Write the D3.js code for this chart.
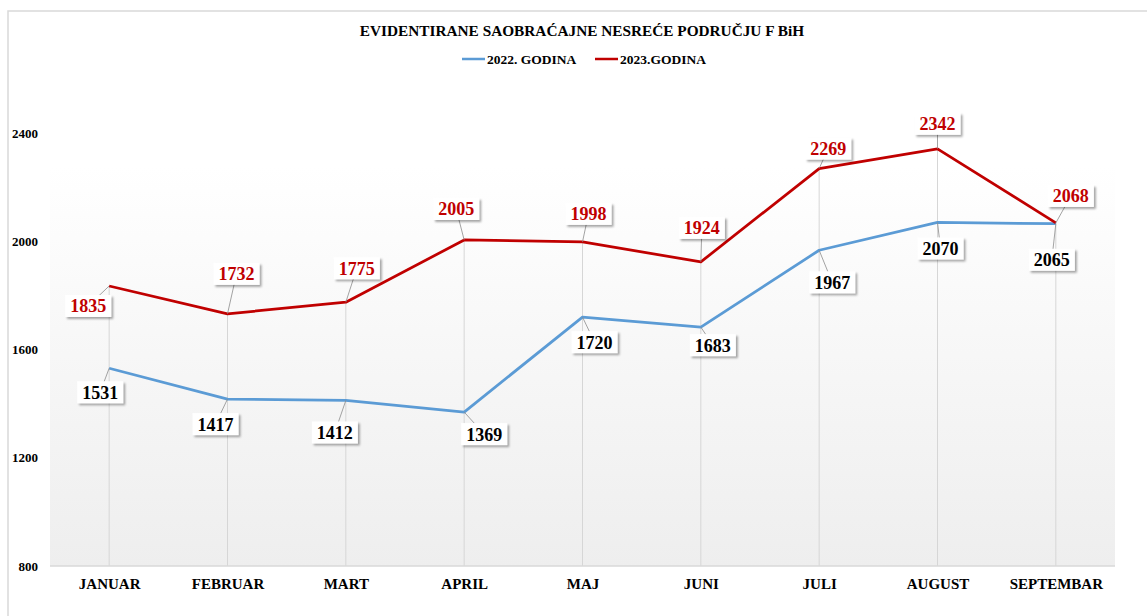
<!DOCTYPE html>
<html>
<head>
<meta charset="utf-8">
<script src="https://cdn.jsdelivr.net/npm/d3@7"></script>
<style>
  body { margin: 0; background: #fff; }
  svg text { font-family: "Liberation Serif", serif; font-weight: bold; }
</style>
</head>
<body>
<div id="vis"></div>
<script>
// data
const months = ["JANUAR", "FEBRUAR", "MART", "APRIL", "MAJ", "JUNI", "JULI", "AUGUST", "SEPTEMBAR"];
const values2022 = [1531, 1417, 1412, 1369, 1720, 1683, 1967, 2070, 2065];
const values2023 = [1835, 1732, 1775, 2005, 1998, 1924, 2269, 2342, 2068];
const yTicks = [800, 1200, 1600, 2000, 2400];
const seriesNames = ["2022. GODINA", "2023.GODINA"];

// where Excel put the moved data labels (offset from the point, px)
const offsets2022 = [[-9, 24], [-12, 25], [-11, 32], [20, 22], [12, 25], [12, 18], [13, 32], [3, 26], [-4, 36]];
const offsets2023 = [[-21, 20], [9, -40], [11, -34], [-8, -31], [6, -28], [1, -34], [9, -20], [0, -25], [15, -27]];

const W = 1147, H = 616;
const plot = {left: 50, right: 1115, top: 79, bottom: 566};

const svg = d3.select("#vis").append("svg")
    .attr("width", W)
    .attr("height", H);

const defs = svg.append("defs");
const grad = defs.append("linearGradient")
    .attr("id", "bg")
    .attr("x1", 0).attr("y1", 0).attr("x2", 0).attr("y2", 1);
grad.append("stop").attr("offset", "0%").attr("stop-color", "#ffffff");
grad.append("stop").attr("offset", "18%").attr("stop-color", "#ffffff");
grad.append("stop").attr("offset", "100%").attr("stop-color", "#eeeeee");

const shadow = defs.append("filter")
    .attr("id", "shadow")
    .attr("x", "-20%").attr("y", "-30%").attr("width", "150%").attr("height", "170%");
shadow.append("feDropShadow")
    .attr("dx", 2).attr("dy", 2)
    .attr("stdDeviation", 1.3)
    .attr("flood-color", "#000")
    .attr("flood-opacity", 0.35);

// chart frame
svg.append("rect")
    .attr("x", 8).attr("y", 11)
    .attr("width", W + 10).attr("height", H + 10)
    .attr("fill", "none")
    .attr("stroke", "#d9d9d9")
    .attr("stroke-width", 1.5);

// plot area
svg.append("rect")
    .attr("x", plot.left).attr("y", plot.top)
    .attr("width", plot.right - plot.left)
    .attr("height", plot.bottom - plot.top)
    .attr("fill", "url(#bg)");

const xScale = d3.scalePoint()
    .domain(months)
    .range([plot.left, plot.right])
    .padding(0.5);

const yScale = d3.scaleLinear()
    .domain([800, 2600])
    .range([plot.bottom, plot.top]);

// drop lines from the highest point down to the axis
svg.append("g")
    .selectAll("line")
    .data(months)
    .join("line")
    .attr("x1", d => xScale(d))
    .attr("x2", d => xScale(d))
    .attr("y1", (d, i) => yScale(Math.max(values2022[i], values2023[i])))
    .attr("y2", plot.bottom)
    .attr("stroke", "#d6d6d6")
    .attr("stroke-width", 1);

// x axis
const xAxis = svg.append("g")
    .attr("transform", `translate(0,${plot.bottom})`)
    .call(d3.axisBottom(xScale).tickSize(0).tickPadding(12));
xAxis.select(".domain")
    .attr("d", `M${plot.left},0H${plot.right}`)
    .attr("stroke", "#d9d9d9")
    .attr("stroke-width", 1.5);
xAxis.selectAll("text")
    .style("font-family", "Liberation Serif, serif")
    .style("font-weight", "bold")
    .style("font-size", "15px")
    .attr("fill", "#000");

// y axis, labels only
const yAxis = svg.append("g")
    .attr("transform", `translate(38,0)`)
    .call(d3.axisLeft(yScale).tickValues(yTicks).tickFormat(d3.format("d")).tickSize(0).tickPadding(0));
yAxis.select(".domain").remove();
yAxis.selectAll("text")
    .style("font-family", "Liberation Serif, serif")
    .style("font-weight", "bold")
    .style("font-size", "13px")
    .attr("fill", "#000");

// lines
const lineGen = d3.line()
    .x((d, i) => xScale(months[i]))
    .y(d => yScale(d));

const series = [
    {name: seriesNames[0], values: values2022, offsets: offsets2022, color: "#5b9bd5", textColor: "#000"},
    {name: seriesNames[1], values: values2023, offsets: offsets2023, color: "#c00000", textColor: "#c00000"}
];

series.forEach(s => {
    svg.append("path")
        .datum(s.values)
        .attr("fill", "none")
        .attr("stroke", s.color)
        .attr("stroke-width", 2.75)
        .attr("stroke-linejoin", "round")
        .attr("d", lineGen);
});

// data labels with leader lines
const boxW = 46, boxH = 22;
series.forEach(s => {
    const g = svg.append("g");
    const labels = s.values.map((v, i) => {
        const px = xScale(months[i]), py = yScale(v);
        return {v, px, py, cx: px + s.offsets[i][0], cy: py + s.offsets[i][1]};
    });

    g.selectAll("line")
        .data(labels)
        .join("line")
        .attr("x1", d => d.px)
        .attr("y1", d => d.py)
        .attr("x2", d => d.cx)
        .attr("y2", d => d.cy)
        .attr("stroke", "#8c8c8c")
        .attr("stroke-width", 0.8);

    const box = g.selectAll(".lbl")
        .data(labels)
        .join("g")
        .attr("class", "lbl")
        .attr("transform", d => `translate(${d.cx},${d.cy})`);

    box.append("rect")
        .attr("x", -boxW / 2).attr("y", -boxH / 2)
        .attr("width", boxW).attr("height", boxH)
        .attr("fill", "#fff")
        .attr("filter", "url(#shadow)");

    box.append("text")
        .attr("text-anchor", "middle")
        .attr("dy", "0.36em")
        .style("font-size", "18px")
        .attr("fill", s.textColor)
        .text(d => d.v);
});

// title
svg.append("text")
    .attr("x", 582).attr("y", 36)
    .attr("text-anchor", "middle")
    .style("font-size", "15.3px")
    .attr("fill", "#000")
    .text("EVIDENTIRANE SAOBRAĆAJNE NESREĆE PODRUČJU F BiH");

// legend
const legendX = [462, 595];
const legend = svg.append("g")
    .selectAll("g")
    .data(series)
    .join("g")
    .attr("transform", (d, i) => `translate(${legendX[i]},59)`);
legend.append("line")
    .attr("x1", 0).attr("x2", 23)
    .attr("stroke", d => d.color)
    .attr("stroke-width", 2.5);
legend.append("text")
    .attr("x", 25)
    .attr("dy", "0.35em")
    .style("font-size", "13.5px")
    .attr("fill", "#000")
    .text(d => d.name);
</script>
</body>
</html>
